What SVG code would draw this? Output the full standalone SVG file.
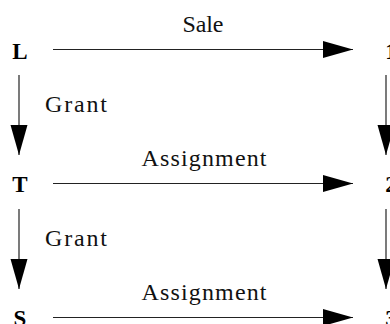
<svg xmlns="http://www.w3.org/2000/svg" width="390" height="324" viewBox="0 0 390 324">
<style>
.node{font-family:"Liberation Serif",serif;font-weight:bold;font-size:23px;fill:#000;text-anchor:middle}
.lbl{font-family:"Liberation Serif",serif;font-size:24px;fill:#111}
.mid{text-anchor:middle}
.edge{stroke:#222;stroke-width:1.2;fill:none;marker-end:url(#ah)}
</style>
<defs>
<marker id="ah" markerUnits="userSpaceOnUse" markerWidth="30" markerHeight="18" viewBox="0 0 30 18" refX="30" refY="9" orient="auto">
<path d="M0,0.5 L30,9 L0,17.5 Z" fill="#000"/>
</marker>
</defs>
<rect width="390" height="324" fill="#fff"/>
<g id="connectors">
<line class="edge" x1="53" y1="49.5" x2="353" y2="49.5"/>
<line class="edge" x1="53" y1="183.5" x2="353" y2="183.5"/>
<line class="edge" x1="53" y1="317.5" x2="353" y2="317.5"/>
<line class="edge" x1="19" y1="75" x2="19" y2="155"/>
<line class="edge" x1="19" y1="209" x2="19" y2="289"/>
<line class="edge" x1="386" y1="75" x2="386" y2="155"/>
<line class="edge" x1="386" y1="209" x2="386" y2="289"/>
<text class="lbl mid" x="203" y="32" textLength="41" lengthAdjust="spacing">Sale</text>
<text class="lbl mid" x="204" y="166" textLength="125" lengthAdjust="spacing">Assignment</text>
<text class="lbl mid" x="204" y="300" textLength="125" lengthAdjust="spacing">Assignment</text>
<text class="lbl" x="45" y="112" textLength="62" lengthAdjust="spacing">Grant</text>
<text class="lbl" x="45" y="246" textLength="62" lengthAdjust="spacing">Grant</text>
</g>
<g id="node-L"><text class="node" x="20" y="58.5">L</text></g>
<g id="node-T"><text class="node" x="20" y="192">T</text></g>
<g id="node-S"><text class="node" x="20" y="326">S</text></g>
<g id="node-1"><text class="node" x="391" y="58.5">1</text></g>
<g id="node-2"><text class="node" x="391" y="192">2</text></g>
<g id="node-3"><text class="node" x="391" y="326">3</text></g>
</svg>
